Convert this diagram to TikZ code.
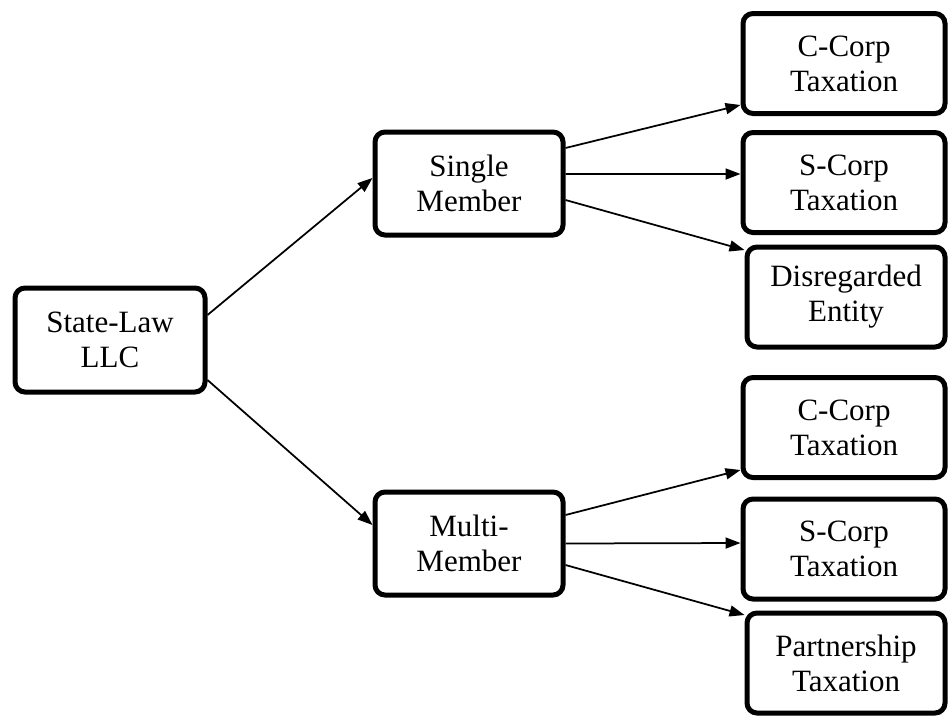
\documentclass[tikz,border=0pt]{standalone}
\usepackage{fontspec}
\setmainfont{Liberation Serif}
\usetikzlibrary{arrows.meta,positioning}

\begin{document}
\begin{tikzpicture}[>={Triangle[width=4.4pt,length=6pt]}, line width=0.7pt, box/.style={draw, line width=2pt, rounded corners=4pt, align=center, inner sep=0pt, font=\fontsize{12.4}{14}\selectfont}, mid/.style={box, minimum width=75.2pt, minimum height=41.2pt}, leaf/.style={box, minimum width=80.8pt, minimum height=40pt}]
	\useasboundingbox (0pt, 0pt) rectangle (379.2pt, -286.8pt);
	\draw (44.0pt, -136.0pt)node[box, minimum width=76pt, minimum height=41.6pt](0){State-Law\\LLC};
	\draw (187.6pt, -73.4pt)node[mid](1){Single\\Member};
	\draw (187.6pt, -217.4pt)node[mid](2){Multi-\\Member};
	\draw (337.6pt, -25.4pt)node[leaf](3){C-Corp\\Taxation};
	\draw (337.6pt, -73.0pt)node[leaf](4){S-Corp\\Taxation};
	\draw (338.4pt, -118.8pt)node[leaf, minimum width=79.2pt](5){Disregarded\\Entity};
	\draw (337.6pt, -171.0pt)node[leaf](6){C-Corp\\Taxation};
	\draw (337.6pt, -219.6pt)node[leaf](7){S-Corp\\Taxation};
	\draw (338.4pt, -265.2pt)node[leaf, minimum width=79.2pt](8){Partnership\\Taxation};
	\path[->] ([yshift=10pt]0.east) edge ([yshift=2.2pt]1.west);
	\path[->] ([yshift=-16pt]0.east) edge ([yshift=7.4pt]2.west);
	\path[->] ([yshift=14.2pt]1.east) edge ([yshift=-16.6pt]3.west);
	\path[->] ([yshift=3.8pt]1.east) edge ([yshift=3.4pt]4.west);
	\path[->] ([yshift=-6.6pt]1.east) edge ([yshift=18.8pt]5.west);
	\path[->] ([yshift=11.4pt]2.east) edge ([yshift=-17pt]6.west);
	\path[->] ([yshift=0pt]2.east) edge ([yshift=2.4pt]7.west);
	\path[->] ([yshift=-8.6pt]2.east) edge ([yshift=19.2pt]8.west);
\end{tikzpicture}
\end{document}
